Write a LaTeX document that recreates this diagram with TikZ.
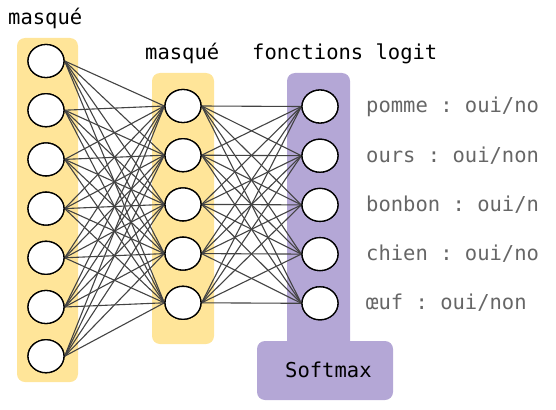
\documentclass[tikz,border=0pt]{standalone}
\usepackage{fontspec}
\setmonofont{DejaVu Sans Mono}
\usetikzlibrary{shapes.geometric, positioning}
\definecolor{hidbg}{HTML}{FFE599}
\definecolor{outbg}{HTML}{B4A7D6}
\definecolor{edgec}{HTML}{434343}
\definecolor{labc}{HTML}{666666}

\begin{document}
\begin{tikzpicture}[
  x=1pt, y=-1pt,
  neuron/.style={draw, ellipse, line width=1.3pt, fill=white, inner sep=0pt,
    minimum width=36pt, minimum height=33pt},
  col/.style={rounded corners=8pt},
  txt/.style={font=\ttfamily\fontsize{20.5}{24}\selectfont, inner sep=0pt, anchor=base west},
  lab/.style={txt, text=labc},
  conn/.style={draw=edgec, line width=1.1pt}
]
\useasboundingbox (0,0) rectangle (556,409);

% layer backgrounds
\fill[hidbg, col] (17,38) rectangle (78,382);
\fill[hidbg, col] (152,73) rectangle (214,344);
\fill[outbg, col] (287,73) rectangle (350,350);
\node[fill=outbg, rounded corners=8pt, minimum width=136pt, minimum height=59pt,
  inner sep=0pt] (softmax) at (325,370.5) {};
\node[txt] (smtxt) at (285,377) {Softmax};

% titles
\node[txt] (t1) at (8,25) {masqué};
\node[txt] (t2) at (145,60) {masqué};
\node[txt] (t3) at (252,60) {fonctions logit};

% neurons
\foreach \i in {1,...,7} \node[neuron] (l\i) at (46,{61+49.2*(\i-1)}) {};
\foreach \j in {1,...,5} \node[neuron] (m\j) at (183,{106+49.2*(\j-1)}) {};
\foreach \k in {1,...,5} \node[neuron] (o\k) at (320,{106.5+49.2*(\k-1)}) {};

% connections
\foreach \i in {1,...,7} \foreach \j in {1,...,5} \draw[conn] (l\i.east) -- (m\j.west);
\foreach \j in {1,...,5} \foreach \k in {1,...,5} \draw[conn] (m\j.east) -- (o\k.west);
\foreach \k in {1,...,5} \node[neuron] at (o\k) {};
\foreach \j in {1,...,5} \node[neuron] at (m\j) {};
\foreach \i in {1,...,7} \node[neuron] at (l\i) {};

% output labels
\foreach \k/\t in {1/{pomme : oui/no}, 2/{ours : oui/non}, 3/{bonbon : oui/n},
  4/{chien : oui/no}, 5/{œuf : oui/non}}
  \node[lab] (lab\k) at (366,{113+49.2*(\k-1)}) {\t};
\end{tikzpicture}
\end{document}
